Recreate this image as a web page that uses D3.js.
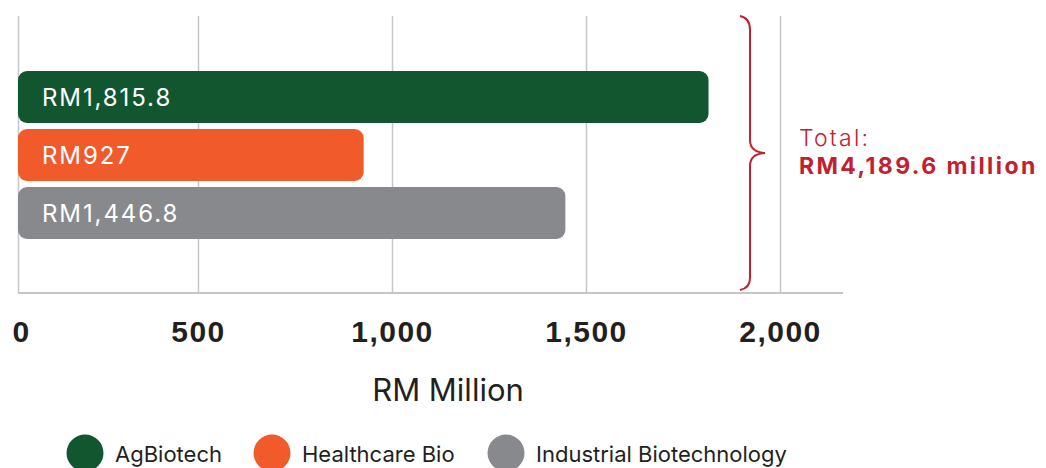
<!DOCTYPE html>
<html>
<head>
<meta charset="utf-8">
<script src="https://cdn.jsdelivr.net/npm/d3@7"></script>
<style>
  body { margin: 0; background: #fff; }
  svg { display: block; }
</style>
</head>
<body>
<svg id="chart" width="1046" height="468"></svg>
<script>
// data
const categories = ['AgBiotech', 'Healthcare Bio', 'Industrial Biotechnology'];
const values = [1815.8, 927, 1446.8];
const barLabels = ['RM1,815.8', 'RM927', 'RM1,446.8'];
const tickValues = [0, 500, 1000, 1500, 2000];
const colors = ['#12562f', '#f15a2b', '#88898d'];

const svg = d3.select('#chart'),
    plotTop = 16, plotBottom = 293, plotLeft = 18, plotRight = 843;

// the printed axis is not quite linear near 0, so use a 3-stop scale
let x = d3.scaleLinear()
    .domain([0, 500, 2000])
    .range([plotLeft, 198, 780]);
let y = d3.scaleBand()
    .domain(categories)
    .range([71, 239])
    .paddingInner(0.1034)
    .paddingOuter(0);

// grid
let grid = svg.append('g')
    .attr('transform', 'translate(0,' + plotBottom + ')')
    .call(d3.axisBottom(x).tickValues(tickValues).tickSize(-(plotBottom - plotTop)).tickFormat(''));
grid.select('.domain').remove();
grid.selectAll('line').attr('stroke', '#c6c6ca').attr('stroke-width', 1.5);

svg.append('line')
    .attr('x1', plotLeft).attr('x2', plotRight)
    .attr('y1', plotBottom).attr('y2', plotBottom)
    .attr('stroke', '#c6c6ca').attr('stroke-width', 2);

// tick labels
let ticks = svg.append('g')
    .attr('transform', 'translate(0,' + plotBottom + ')')
    .call(d3.axisBottom(x).tickValues(tickValues).tickSize(0).tickPadding(0).tickFormat(d3.format(',')));
ticks.select('.domain').remove();
ticks.selectAll('text')
    .attr('y', 49)
    .attr('dy', 0)
    .attr('fill', '#231f20')
    .style('font-family', '"Liberation Sans", Arial, sans-serif')
    .style('font-weight', 'bold')
    .style('font-size', '30px')
    .style('letter-spacing', '1.5px');
ticks.selectAll('.tick').filter(d => d === 0).select('text').attr('x', 3);

svg.append('text')
    .attr('x', 448).attr('y', 401)
    .attr('text-anchor', 'middle')
    .attr('fill', '#231f20')
    .style('font-family', 'Inter, "Noto Sans", sans-serif')
    .style('font-size', '31px')
    .text('RM Million');

// bars
svg.selectAll('.bar')
    .data(values)
    .enter()
    .append('rect')
    .attr('class', 'bar')
    .attr('x', x(0))
    .attr('y', (d, i) => y(categories[i]))
    .attr('width', d => x(d) - x(0))
    .attr('height', y.bandwidth())
    .attr('rx', 9)
    .attr('fill', (d, i) => colors[i]);

svg.selectAll('.barLabel')
    .data(barLabels)
    .enter()
    .append('text')
    .attr('class', 'barLabel')
    .attr('x', 42)
    .attr('y', (d, i) => y(categories[i]) + y.bandwidth() / 2)
    .attr('dy', '0.36em')
    .attr('fill', '#fff')
    .style('font-family', 'Inter, "Noto Sans", sans-serif')
    .style('font-size', '24px')
    .style('letter-spacing', '1.9px')
    .text(d => d);

// brace + total
svg.append('path')
    .attr('d', 'M740,16 Q750,18 750,30 L750,140 Q750,152 765,153 Q750,154 750,166 L750,278 Q750,288 740,290')
    .attr('fill', 'none')
    .attr('stroke', '#c1202f')
    .attr('stroke-width', 2);

let total = d3.sum(values);
svg.append('text')
    .attr('x', 799).attr('y', 146)
    .attr('fill', '#c1202f')
    .style('font-family', 'Inter, "Noto Sans", sans-serif')
    .style('font-size', '23px')
    .style('font-weight', 300)
    .style('letter-spacing', '2.2px')
    .text('Total:');
svg.append('text')
    .attr('x', 799).attr('y', 174)
    .attr('fill', '#c1202f')
    .style('font-family', 'Inter, "Noto Sans", sans-serif')
    .style('font-size', '23px')
    .style('font-weight', 'bold')
    .style('letter-spacing', '2.4px')
    .text('RM' + d3.format(',.1f')(total) + ' million');

// legend
const legendX = [85, 272, 506];
let legend = svg.selectAll('.legend')
    .data(categories)
    .enter()
    .append('g')
    .attr('class', 'legend')
    .attr('transform', (d, i) => 'translate(' + legendX[i] + ',453)');
legend.append('circle')
    .attr('r', 18.5)
    .attr('fill', (d, i) => colors[i]);
legend.append('text')
    .attr('x', 30)
    .attr('y', 9)
    .attr('fill', '#231f20')
    .style('font-family', 'Inter, "Noto Sans", sans-serif')
    .style('font-size', '22px')
    .text(d => d);
</script>
</body>
</html>
